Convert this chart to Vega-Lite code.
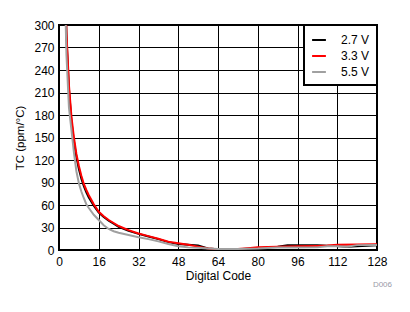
{
  "$schema": "https://vega.github.io/schema/vega-lite/v6.json",
  "autosize": "none",
  "width": 318,
  "height": 225,
  "padding": {"left": 59, "top": 25, "right": 33, "bottom": 62},
  "background": "white",
  "config": {
    "font": "Liberation Sans",
    "view": {"stroke": "black", "strokeWidth": 2},
    "axis": {
      "domain": false,
      "ticks": false,
      "grid": true,
      "gridColor": "black",
      "gridOpacity": 1,
      "gridWidth": 1,
      "labelFont": "Liberation Sans",
      "labelFontSize": 12,
      "labelColor": "black",
      "titleFont": "Liberation Sans",
      "titleFontSize": 12,
      "titleFontWeight": "normal",
      "titleColor": "black"
    },
    "legend": {
      "labelFont": "Liberation Sans",
      "labelFontSize": 12,
      "labelColor": "black",
      "strokeWidth": 2
    }
  },
  "title": {
    "text": "D006",
    "orient": "bottom",
    "anchor": "end",
    "fontSize": 8,
    "fontWeight": "normal",
    "color": "#9a9aa8",
    "font": "Liberation Sans",
    "offset": 0,
    "dx": 5
  },
  "data": {
    "values": [
      {"code": 2, "tc": 430, "supply": "2.7 V"},
      {"code": 3, "tc": 285, "supply": "2.7 V"},
      {"code": 4, "tc": 215, "supply": "2.7 V"},
      {"code": 5, "tc": 172, "supply": "2.7 V"},
      {"code": 6, "tc": 145, "supply": "2.7 V"},
      {"code": 7, "tc": 124, "supply": "2.7 V"},
      {"code": 8, "tc": 108, "supply": "2.7 V"},
      {"code": 9, "tc": 95, "supply": "2.7 V"},
      {"code": 10, "tc": 85, "supply": "2.7 V"},
      {"code": 11, "tc": 77, "supply": "2.7 V"},
      {"code": 12, "tc": 70, "supply": "2.7 V"},
      {"code": 14, "tc": 59, "supply": "2.7 V"},
      {"code": 16, "tc": 50, "supply": "2.7 V"},
      {"code": 18, "tc": 44, "supply": "2.7 V"},
      {"code": 20, "tc": 39, "supply": "2.7 V"},
      {"code": 22, "tc": 35, "supply": "2.7 V"},
      {"code": 24, "tc": 31, "supply": "2.7 V"},
      {"code": 28, "tc": 25.5, "supply": "2.7 V"},
      {"code": 32, "tc": 21.5, "supply": "2.7 V"},
      {"code": 36, "tc": 18, "supply": "2.7 V"},
      {"code": 40, "tc": 14.5, "supply": "2.7 V"},
      {"code": 44, "tc": 10.5, "supply": "2.7 V"},
      {"code": 48, "tc": 8, "supply": "2.7 V"},
      {"code": 52, "tc": 7, "supply": "2.7 V"},
      {"code": 56, "tc": 6, "supply": "2.7 V"},
      {"code": 60, "tc": 2, "supply": "2.7 V"},
      {"code": 64, "tc": 1, "supply": "2.7 V"},
      {"code": 72, "tc": 1, "supply": "2.7 V"},
      {"code": 80, "tc": 2.5, "supply": "2.7 V"},
      {"code": 88, "tc": 4.5, "supply": "2.7 V"},
      {"code": 92, "tc": 6.5, "supply": "2.7 V"},
      {"code": 104, "tc": 6.5, "supply": "2.7 V"},
      {"code": 110, "tc": 5.5, "supply": "2.7 V"},
      {"code": 116, "tc": 4.5, "supply": "2.7 V"},
      {"code": 120, "tc": 5, "supply": "2.7 V"},
      {"code": 128, "tc": 6.5, "supply": "2.7 V"},

      {"code": 2, "tc": 430, "supply": "3.3 V"},
      {"code": 3, "tc": 290, "supply": "3.3 V"},
      {"code": 4, "tc": 220, "supply": "3.3 V"},
      {"code": 5, "tc": 178, "supply": "3.3 V"},
      {"code": 6, "tc": 150, "supply": "3.3 V"},
      {"code": 7, "tc": 128, "supply": "3.3 V"},
      {"code": 8, "tc": 112, "supply": "3.3 V"},
      {"code": 9, "tc": 99, "supply": "3.3 V"},
      {"code": 10, "tc": 88, "supply": "3.3 V"},
      {"code": 11, "tc": 80, "supply": "3.3 V"},
      {"code": 12, "tc": 73, "supply": "3.3 V"},
      {"code": 14, "tc": 61, "supply": "3.3 V"},
      {"code": 16, "tc": 51, "supply": "3.3 V"},
      {"code": 18, "tc": 45, "supply": "3.3 V"},
      {"code": 20, "tc": 40, "supply": "3.3 V"},
      {"code": 22, "tc": 36, "supply": "3.3 V"},
      {"code": 24, "tc": 32, "supply": "3.3 V"},
      {"code": 28, "tc": 26.5, "supply": "3.3 V"},
      {"code": 32, "tc": 22, "supply": "3.3 V"},
      {"code": 36, "tc": 18.5, "supply": "3.3 V"},
      {"code": 40, "tc": 15, "supply": "3.3 V"},
      {"code": 44, "tc": 11, "supply": "3.3 V"},
      {"code": 48, "tc": 9, "supply": "3.3 V"},
      {"code": 52, "tc": 7, "supply": "3.3 V"},
      {"code": 56, "tc": 4.5, "supply": "3.3 V"},
      {"code": 60, "tc": 2, "supply": "3.3 V"},
      {"code": 64, "tc": 1, "supply": "3.3 V"},
      {"code": 68, "tc": 1, "supply": "3.3 V"},
      {"code": 72, "tc": 1.5, "supply": "3.3 V"},
      {"code": 76, "tc": 2.5, "supply": "3.3 V"},
      {"code": 80, "tc": 3.6, "supply": "3.3 V"},
      {"code": 88, "tc": 4.5, "supply": "3.3 V"},
      {"code": 96, "tc": 5, "supply": "3.3 V"},
      {"code": 104, "tc": 5.5, "supply": "3.3 V"},
      {"code": 108, "tc": 6, "supply": "3.3 V"},
      {"code": 112, "tc": 7, "supply": "3.3 V"},
      {"code": 120, "tc": 7.3, "supply": "3.3 V"},
      {"code": 128, "tc": 7.6, "supply": "3.3 V"},

      {"code": 2, "tc": 400, "supply": "5.5 V"},
      {"code": 3, "tc": 260, "supply": "5.5 V"},
      {"code": 4, "tc": 190, "supply": "5.5 V"},
      {"code": 5, "tc": 160, "supply": "5.5 V"},
      {"code": 6, "tc": 130, "supply": "5.5 V"},
      {"code": 7, "tc": 105, "supply": "5.5 V"},
      {"code": 8, "tc": 89, "supply": "5.5 V"},
      {"code": 9, "tc": 78, "supply": "5.5 V"},
      {"code": 10, "tc": 69, "supply": "5.5 V"},
      {"code": 11, "tc": 61, "supply": "5.5 V"},
      {"code": 12, "tc": 56, "supply": "5.5 V"},
      {"code": 14, "tc": 47, "supply": "5.5 V"},
      {"code": 16, "tc": 40, "supply": "5.5 V"},
      {"code": 18, "tc": 33, "supply": "5.5 V"},
      {"code": 20, "tc": 28, "supply": "5.5 V"},
      {"code": 22, "tc": 25, "supply": "5.5 V"},
      {"code": 24, "tc": 23, "supply": "5.5 V"},
      {"code": 28, "tc": 20, "supply": "5.5 V"},
      {"code": 32, "tc": 17, "supply": "5.5 V"},
      {"code": 36, "tc": 14.5, "supply": "5.5 V"},
      {"code": 40, "tc": 11.5, "supply": "5.5 V"},
      {"code": 44, "tc": 8, "supply": "5.5 V"},
      {"code": 48, "tc": 5, "supply": "5.5 V"},
      {"code": 52, "tc": 3.5, "supply": "5.5 V"},
      {"code": 56, "tc": 3, "supply": "5.5 V"},
      {"code": 60, "tc": 2, "supply": "5.5 V"},
      {"code": 64, "tc": 1.5, "supply": "5.5 V"},
      {"code": 72, "tc": 1.5, "supply": "5.5 V"},
      {"code": 80, "tc": 2, "supply": "5.5 V"},
      {"code": 88, "tc": 3.3, "supply": "5.5 V"},
      {"code": 96, "tc": 3.3, "supply": "5.5 V"},
      {"code": 104, "tc": 3.5, "supply": "5.5 V"},
      {"code": 108, "tc": 4.9, "supply": "5.5 V"},
      {"code": 112, "tc": 4.9, "supply": "5.5 V"},
      {"code": 116, "tc": 4.2, "supply": "5.5 V"},
      {"code": 120, "tc": 6.5, "supply": "5.5 V"},
      {"code": 128, "tc": 6.7, "supply": "5.5 V"}
    ]
  },
  "mark": {"type": "line", "strokeWidth": 2, "clip": true, "interpolate": "linear"},
  "encoding": {
    "x": {
      "field": "code",
      "type": "quantitative",
      "title": "Digital Code",
      "scale": {"domain": [0, 128], "nice": false},
      "axis": {"values": [0, 16, 32, 48, 64, 80, 96, 112, 128], "labelPadding": 6, "titlePadding": 3, "labelFlush": false}
    },
    "y": {
      "field": "tc",
      "type": "quantitative",
      "title": "TC (ppm/°C)",
      "scale": {"domain": [0, 300], "nice": false},
      "axis": {"values": [0, 30, 60, 90, 120, 150, 180, 210, 240, 270, 300], "labelPadding": 5, "titlePadding": 8, "titleFontSize": 11.5}
    },
    "color": {
      "field": "supply",
      "type": "nominal",
      "title": null,
      "scale": {"domain": ["2.7 V", "3.3 V", "5.5 V"], "range": ["#000000", "#ff0000", "#a0a0a0"]},
      "legend": {
        "orient": "top-right",
        "offset": 0,
        "fillColor": "white",
        "strokeColor": "black",
        "padding": 7,
        "symbolType": "stroke",
        "symbolStrokeWidth": 2,
        "symbolSize": 190,
        "labelOffset": 14,
        "rowPadding": 2
      }
    }
  }
}
